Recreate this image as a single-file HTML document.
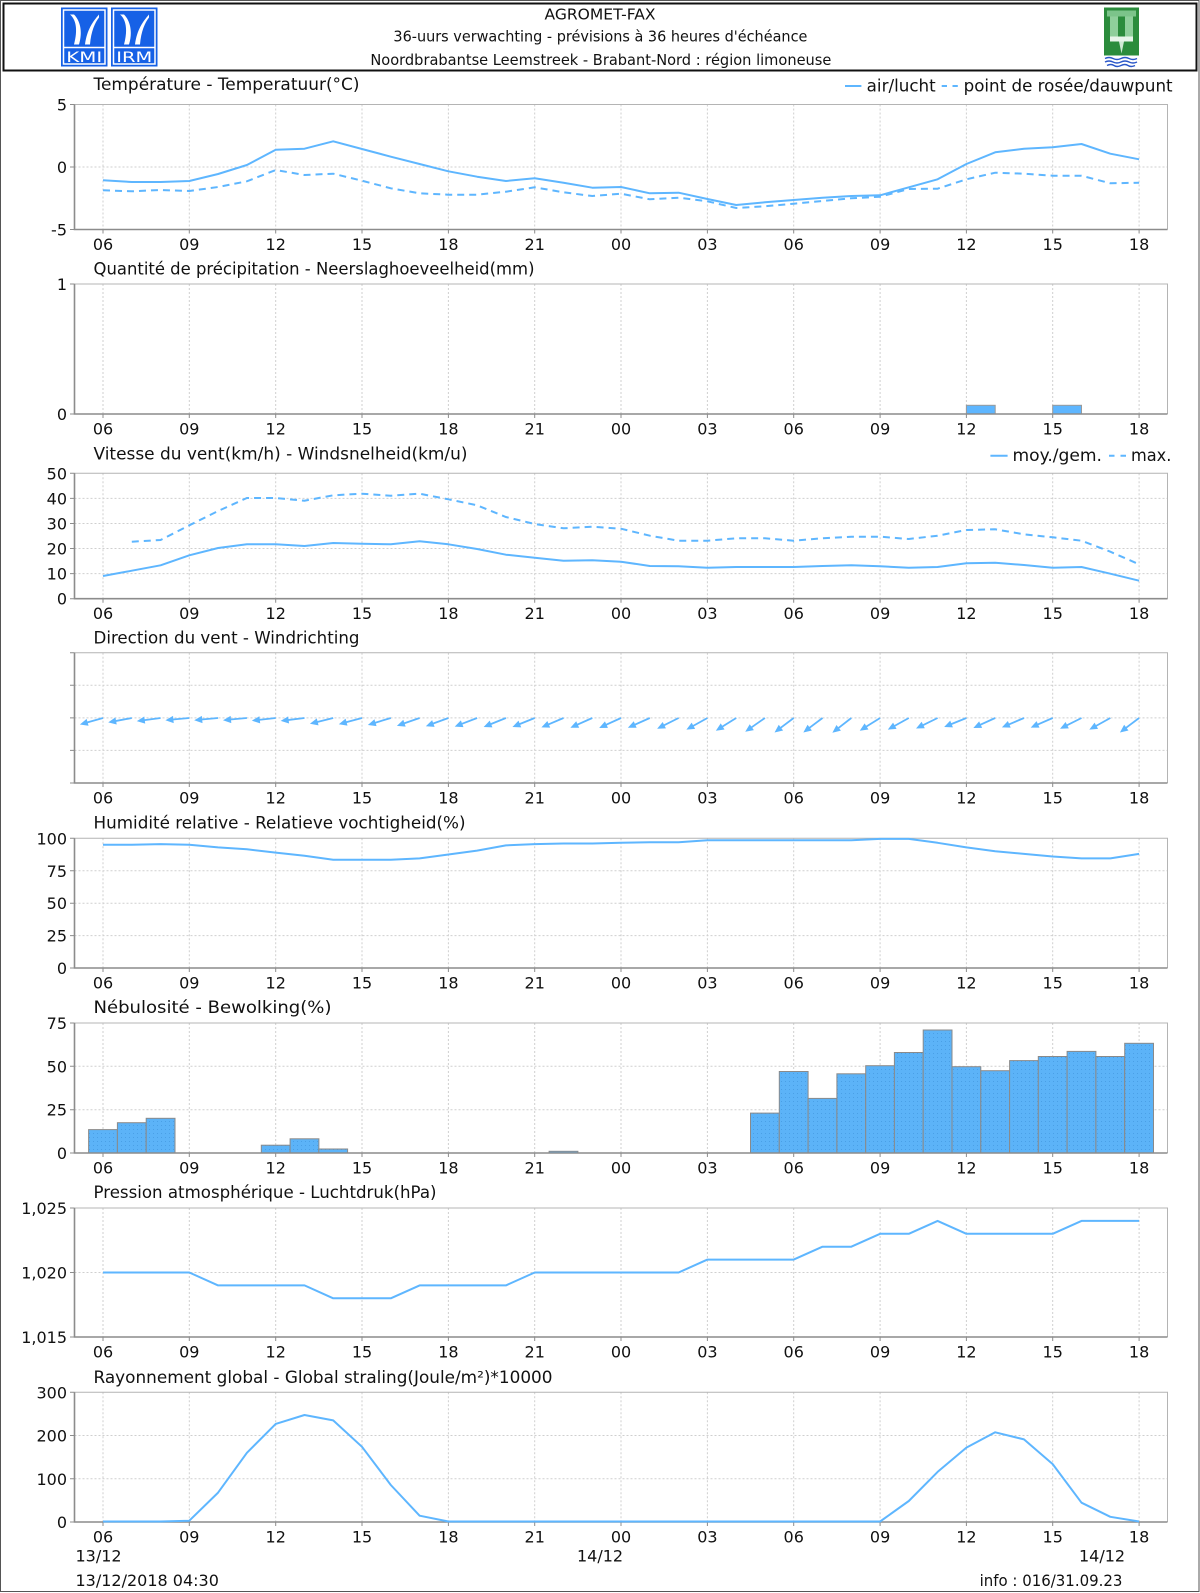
<!DOCTYPE html>
<html><head><meta charset="utf-8"><style>
html,body{margin:0;padding:0;background:#fff;}
svg{display:block;}
text{font-family:"DejaVu Sans","Liberation Sans",sans-serif;fill:#111;}
.t{font-size:16px;}
.ti{font-size:16.5px;}
.h{font-size:15px;}
.yl{text-anchor:end;}
.xl{text-anchor:middle;}
.grid{stroke:#cfcfcf;stroke-width:1;stroke-dasharray:2 2;fill:none;}
.frame{stroke:#b4b4b4;stroke-width:1;fill:none;}
.axis{stroke:#8c8c8c;stroke-width:1.6;fill:none;}
.tick{stroke:#8c8c8c;stroke-width:1;fill:none;}
.s{stroke:#5eb6ff;stroke-width:2;fill:none;stroke-linejoin:round;}
.d{stroke:#5eb6ff;stroke-width:2;fill:none;stroke-dasharray:7 5;}
.bar{fill:url(#dots);stroke:#8a8a8a;stroke-width:1;}
</style></head><body>
<svg width="1200" height="1593" viewBox="0 0 1200 1593" xmlns="http://www.w3.org/2000/svg">
<defs>
<pattern id="dots" width="4" height="4" patternUnits="userSpaceOnUse">
<rect width="4" height="4" fill="#5cb3f8"/><rect x="1" y="1" width="1" height="1" fill="#4a9fe6"/>
</pattern>
<g id="arr"><line x1="0" y1="0" x2="18" y2="0" stroke="#5eb6ff" stroke-width="1.8"/><polygon points="24,0 16,-3.6 16,3.6" fill="#5eb6ff"/></g>
</defs>

<!-- outer border -->
<rect x="0.5" y="0.5" width="1198.5" height="1591" fill="none" stroke="#555" stroke-width="1"/>
<!-- header -->
<rect x="3.5" y="3.5" width="1193" height="67" fill="#fff" stroke="#111" stroke-width="2"/>
<text class="h" x="600" y="19.3" text-anchor="middle" textLength="111" lengthAdjust="spacingAndGlyphs">AGROMET-FAX</text>
<text class="h" x="393.4" y="41.5" textLength="414" lengthAdjust="spacingAndGlyphs">36-uurs verwachting - prévisions à 36 heures d'échéance</text>
<text class="h" x="370.4" y="65" textLength="461" lengthAdjust="spacingAndGlyphs">Noordbrabantse Leemstreek - Brabant-Nord : région limoneuse</text>

<!-- KMI logo -->
<g transform="translate(61,7.5)">
<rect width="46.5" height="59" fill="#1661e6"/>
<rect x="2.5" y="2.5" width="41.5" height="54" fill="none" stroke="#fff" stroke-width="1.5"/>
<path d="M9,7 C15,12 17,22 13,37 L18,37 C22,24 19,13 13,7 Z" fill="#fff"/>
<path d="M38,7 C32,14 26,22 24,37 L29,37 C30,24 34,15 38,10 Z" fill="#fff"/>
<line x1="3" y1="40" x2="43.5" y2="40" stroke="#fff" stroke-width="1.5"/>
<text x="23.25" y="54.5" text-anchor="middle" style="font-size:14px;fill:#fff" textLength="36" lengthAdjust="spacingAndGlyphs">KMI</text>
</g>
<g transform="translate(111,7.5)">
<rect width="46.5" height="59" fill="#1661e6"/>
<rect x="2.5" y="2.5" width="41.5" height="54" fill="none" stroke="#fff" stroke-width="1.5"/>
<path d="M9,7 C15,12 17,22 13,37 L18,37 C22,24 19,13 13,7 Z" fill="#fff"/>
<path d="M38,7 C32,14 26,22 24,37 L29,37 C30,24 34,15 38,10 Z" fill="#fff"/>
<line x1="3" y1="40" x2="43.5" y2="40" stroke="#fff" stroke-width="1.5"/>
<text x="23.25" y="54.5" text-anchor="middle" style="font-size:14px;fill:#fff" textLength="36" lengthAdjust="spacingAndGlyphs">IRM</text>
</g>
<!-- green logo -->
<g transform="translate(1104,7.5)">
<rect width="35" height="48" fill="#2b8c3c"/>
<rect x="3" y="3" width="29" height="6" fill="#7cc48a"/>
<rect x="6" y="9" width="8" height="20" fill="#8fcf9b"/>
<rect x="21" y="9" width="8" height="20" fill="#8fcf9b"/>
<rect x="6" y="29" width="23" height="5" fill="#e8f5ea"/>
<path d="M15,34 L17.5,46 L20,34 Z" fill="#cfe9d4"/>
<path d="M1,51 q4,-2 8,0 t8,0 t8,0 t8,0" stroke="#2a56c8" stroke-width="1.4" fill="none"/>
<path d="M1,54.5 q4,-2 8,0 t8,0 t8,0 t8,0" stroke="#2a56c8" stroke-width="1.4" fill="none"/>
<path d="M3,58 q4,-2 7,0 t7,0 t7,0 t7,0" stroke="#2a56c8" stroke-width="1.4" fill="none"/>
</g>

<!-- ============ PANEL 1: Temperature ============ -->
<text class="ti" x="93.5" y="90" textLength="266" lengthAdjust="spacingAndGlyphs">Température - Temperatuur(°C)</text>
<line x1="845" y1="86" x2="861.4" y2="86" stroke="#5eb6ff" stroke-width="2"/>
<text class="ti" x="866.7" y="91.5" textLength="69" lengthAdjust="spacingAndGlyphs">air/lucht</text>
<path d="M941.7 86H947M952.5 86H957.8" stroke="#5eb6ff" stroke-width="2"/>
<text class="ti" x="963.6" y="91.5" textLength="209" lengthAdjust="spacingAndGlyphs">point de rosée/dauwpunt</text>
<path class="grid" d="M103 104.5V229.5M189.3 104.5V229.5M275.7 104.5V229.5M362 104.5V229.5M448.4 104.5V229.5M534.7 104.5V229.5M621 104.5V229.5M707.4 104.5V229.5M793.7 104.5V229.5M880.1 104.5V229.5M966.4 104.5V229.5M1052.7 104.5V229.5M1139.1 104.5V229.5M74.5 167H1167.5"/>
<path class="frame" d="M74.5 104.5H1167.5V229.5"/>
<path class="axis" d="M74.5 104.5V229.5H1167.5"/>
<path class="tick" d="M70 104.5h4.5M70 167h4.5M70 229.5h4.5M103 229.5v4M189.3 229.5v4M275.7 229.5v4M362 229.5v4M448.4 229.5v4M534.7 229.5v4M621 229.5v4M707.4 229.5v4M793.7 229.5v4M880.1 229.5v4M966.4 229.5v4M1052.7 229.5v4M1139.1 229.5v4"/>
<g class="t yl"><text x="67" y="110.5">5</text><text x="67" y="173">0</text><text x="67" y="235.5">-5</text></g>
<g class="t xl"><text x="103" y="250">06</text><text x="189.3" y="250">09</text><text x="275.7" y="250">12</text><text x="362" y="250">15</text><text x="448.4" y="250">18</text><text x="534.7" y="250">21</text><text x="621" y="250">00</text><text x="707.4" y="250">03</text><text x="793.7" y="250">06</text><text x="880.1" y="250">09</text><text x="966.4" y="250">12</text><text x="1052.7" y="250">15</text><text x="1139.1" y="250">18</text></g>
<polyline class="d" points="103,190.3 131.8,191.3 160.6,190 189.3,191 218.1,187 246.9,181.3 275.7,170 304.5,175 333.2,173.7 362,180.7 390.8,188.3 419.6,193.3 448.4,194.7 477.1,194.7 505.9,191.7 534.7,187.3 563.5,192.3 592.3,196 621,193.7 649.8,199.3 678.6,197.7 707.4,201.3 736.2,208 764.9,206.3 793.7,203.7 822.5,201 851.3,198.3 880.1,196.7 908.8,189 937.6,188.7 966.4,179.3 995.2,172.7 1024,173.7 1052.7,175.7 1081.5,175.7 1110.3,183.3 1139.1,182.7"/>
<polyline class="s" points="103,180.3 131.8,182 160.6,182 189.3,181 218.1,174 246.9,165 275.7,149.7 304.5,148.7 333.2,141.3 362,149 390.8,156.7 419.6,164 448.4,171.3 477.1,176.7 505.9,181 534.7,178.3 563.5,182.7 592.3,187.7 621,187 649.8,193.3 678.6,192.7 707.4,199 736.2,205 764.9,202.3 793.7,200 822.5,197.7 851.3,196 880.1,195.3 908.8,187.3 937.6,179.3 966.4,164 995.2,152.3 1024,148.7 1052.7,147.3 1081.5,144 1110.3,153.7 1139.1,159.3"/>

<!-- ============ PANEL 2: Precipitation ============ -->
<text class="ti" x="93.5" y="274.5" textLength="441" lengthAdjust="spacingAndGlyphs">Quantité de précipitation - Neerslaghoeveelheid(mm)</text>
<path class="grid" d="M103 284V414M189.3 284V414M275.7 284V414M362 284V414M448.4 284V414M534.7 284V414M621 284V414M707.4 284V414M793.7 284V414M880.1 284V414M966.4 284V414M1052.7 284V414M1139.1 284V414"/>
<path class="frame" d="M74.5 284H1167.5V414"/>
<rect x="966.4" y="405.3" width="28.8" height="8.7" fill="#5eb6ff" stroke="#9a9a9a" stroke-width="1"/>
<rect x="1052.7" y="405.3" width="28.8" height="8.7" fill="#5eb6ff" stroke="#9a9a9a" stroke-width="1"/>
<path class="axis" d="M74.5 284V414H1167.5"/>
<path class="tick" d="M70 284h4.5M70 414h4.5M103 414v4M189.3 414v4M275.7 414v4M362 414v4M448.4 414v4M534.7 414v4M621 414v4M707.4 414v4M793.7 414v4M880.1 414v4M966.4 414v4M1052.7 414v4M1139.1 414v4"/>
<g class="t yl"><text x="67" y="290">1</text><text x="67" y="420">0</text></g>
<g class="t xl"><text x="103" y="434.5">06</text><text x="189.3" y="434.5">09</text><text x="275.7" y="434.5">12</text><text x="362" y="434.5">15</text><text x="448.4" y="434.5">18</text><text x="534.7" y="434.5">21</text><text x="621" y="434.5">00</text><text x="707.4" y="434.5">03</text><text x="793.7" y="434.5">06</text><text x="880.1" y="434.5">09</text><text x="966.4" y="434.5">12</text><text x="1052.7" y="434.5">15</text><text x="1139.1" y="434.5">18</text></g>

<!-- ============ PANEL 3: Wind speed ============ -->
<text class="ti" x="93.5" y="459.3" textLength="374" lengthAdjust="spacingAndGlyphs">Vitesse du vent(km/h) - Windsnelheid(km/u)</text>
<line x1="990.4" y1="455.7" x2="1007.6" y2="455.7" stroke="#5eb6ff" stroke-width="2"/>
<text class="ti" x="1012.5" y="461" textLength="89.5" lengthAdjust="spacingAndGlyphs">moy./gem.</text>
<path d="M1109 455.7H1114.5M1120.5 455.7H1126" stroke="#5eb6ff" stroke-width="2"/>
<text class="ti" x="1131" y="461" textLength="40.4" lengthAdjust="spacingAndGlyphs">max.</text>
<path class="grid" d="M103 473.3V598.7M189.3 473.3V598.7M275.7 473.3V598.7M362 473.3V598.7M448.4 473.3V598.7M534.7 473.3V598.7M621 473.3V598.7M707.4 473.3V598.7M793.7 473.3V598.7M880.1 473.3V598.7M966.4 473.3V598.7M1052.7 473.3V598.7M1139.1 473.3V598.7M74.5 498.4H1167.5M74.5 523.5H1167.5M74.5 548.5H1167.5M74.5 573.6H1167.5"/>
<path class="frame" d="M74.5 473.3H1167.5V598.7"/>
<path class="axis" d="M74.5 473.3V598.7H1167.5"/>
<path class="tick" d="M70 473.3h4.5M70 498.4h4.5M70 523.5h4.5M70 548.5h4.5M70 573.6h4.5M70 598.7h4.5M103 598.7v4M189.3 598.7v4M275.7 598.7v4M362 598.7v4M448.4 598.7v4M534.7 598.7v4M621 598.7v4M707.4 598.7v4M793.7 598.7v4M880.1 598.7v4M966.4 598.7v4M1052.7 598.7v4M1139.1 598.7v4"/>
<g class="t yl"><text x="67" y="479.3">50</text><text x="67" y="504.4">40</text><text x="67" y="529.5">30</text><text x="67" y="554.5">20</text><text x="67" y="579.6">10</text><text x="67" y="604.7">0</text></g>
<g class="t xl"><text x="103" y="619.2">06</text><text x="189.3" y="619.2">09</text><text x="275.7" y="619.2">12</text><text x="362" y="619.2">15</text><text x="448.4" y="619.2">18</text><text x="534.7" y="619.2">21</text><text x="621" y="619.2">00</text><text x="707.4" y="619.2">03</text><text x="793.7" y="619.2">06</text><text x="880.1" y="619.2">09</text><text x="966.4" y="619.2">12</text><text x="1052.7" y="619.2">15</text><text x="1139.1" y="619.2">18</text></g>
<polyline class="d" points="131.8,541.7 160.6,540 189.3,525.3 218.1,511 246.9,498 275.7,498 304.5,500.7 333.2,495.3 362,493.7 390.8,495.7 419.6,493.7 448.4,499.3 477.1,505.3 505.9,517 534.7,524 563.5,528.3 592.3,526.7 621,528.7 649.8,535.7 678.6,540.7 707.4,540.7 736.2,538.3 764.9,538.3 793.7,540.7 822.5,538.3 851.3,536.7 880.1,536.7 908.8,539 937.6,535.7 966.4,530 995.2,529.3 1024,534.3 1052.7,537.3 1081.5,540.7 1110.3,551.7 1139.1,564.3"/>
<polyline class="s" points="103,576 131.8,570.7 160.6,565.3 189.3,555.3 218.1,548 246.9,544.3 275.7,544.3 304.5,546 333.2,543 362,543.7 390.8,544.3 419.6,541.3 448.4,544.3 477.1,549 505.9,554.7 534.7,557.7 563.5,560.7 592.3,560.3 621,561.7 649.8,566 678.6,566.3 707.4,567.7 736.2,567 764.9,567 793.7,567 822.5,566 851.3,565.3 880.1,566.3 908.8,567.7 937.6,567 966.4,563.3 995.2,562.7 1024,565 1052.7,567.7 1081.5,567 1110.3,573.7 1139.1,580.7"/>

<!-- ============ PANEL 4: Wind direction ============ -->
<text class="ti" x="93.5" y="643.5" textLength="266" lengthAdjust="spacingAndGlyphs">Direction du vent - Windrichting</text>
<path class="grid" d="M103 652.7V783M189.3 652.7V783M275.7 652.7V783M362 652.7V783M448.4 652.7V783M534.7 652.7V783M621 652.7V783M707.4 652.7V783M793.7 652.7V783M880.1 652.7V783M966.4 652.7V783M1052.7 652.7V783M1139.1 652.7V783M74.5 685.3H1167.5M74.5 717.9H1167.5M74.5 750.4H1167.5"/>
<path class="frame" d="M74.5 652.7H1167.5V783"/>
<path class="axis" d="M74.5 652.7V783H1167.5"/>
<path class="tick" d="M70 652.7h4.5M70 685.3h4.5M70 717.9h4.5M70 750.4h4.5M70 783h4.5M103 783v4M189.3 783v4M275.7 783v4M362 783v4M448.4 783v4M534.7 783v4M621 783v4M707.4 783v4M793.7 783v4M880.1 783v4M966.4 783v4M1052.7 783v4M1139.1 783v4"/>
<g class="t xl"><text x="103" y="803.5">06</text><text x="189.3" y="803.5">09</text><text x="275.7" y="803.5">12</text><text x="362" y="803.5">15</text><text x="448.4" y="803.5">18</text><text x="534.7" y="803.5">21</text><text x="621" y="803.5">00</text><text x="707.4" y="803.5">03</text><text x="793.7" y="803.5">06</text><text x="880.1" y="803.5">09</text><text x="966.4" y="803.5">12</text><text x="1052.7" y="803.5">15</text><text x="1139.1" y="803.5">18</text></g>
<g>
<use href="#arr" transform="translate(103,718) rotate(164.4)"/>
<use href="#arr" transform="translate(131.8,718) rotate(169.4)"/>
<use href="#arr" transform="translate(160.6,718) rotate(172.4)"/>
<use href="#arr" transform="translate(189.3,718) rotate(174.7)"/>
<use href="#arr" transform="translate(218.1,718) rotate(174.7)"/>
<use href="#arr" transform="translate(246.9,718) rotate(174.7)"/>
<use href="#arr" transform="translate(275.7,718) rotate(173.6)"/>
<use href="#arr" transform="translate(304.5,718) rotate(173)"/>
<use href="#arr" transform="translate(333.2,718) rotate(166)"/>
<use href="#arr" transform="translate(362,718) rotate(165)"/>
<use href="#arr" transform="translate(390.8,718) rotate(163)"/>
<use href="#arr" transform="translate(419.6,718) rotate(161)"/>
<use href="#arr" transform="translate(448.4,718) rotate(160)"/>
<use href="#arr" transform="translate(477.1,718) rotate(159)"/>
<use href="#arr" transform="translate(505.9,718) rotate(158)"/>
<use href="#arr" transform="translate(534.7,718) rotate(158)"/>
<use href="#arr" transform="translate(563.5,718) rotate(157)"/>
<use href="#arr" transform="translate(592.3,718) rotate(156)"/>
<use href="#arr" transform="translate(621,718) rotate(155.4)"/>
<use href="#arr" transform="translate(649.8,718) rotate(156)"/>
<use href="#arr" transform="translate(678.6,718) rotate(153.4)"/>
<use href="#arr" transform="translate(707.4,718) rotate(151)"/>
<use href="#arr" transform="translate(736.2,718) rotate(148)"/>
<use href="#arr" transform="translate(764.9,718) rotate(145)"/>
<use href="#arr" transform="translate(793.7,718) rotate(143)"/>
<use href="#arr" transform="translate(822.5,718) rotate(143)"/>
<use href="#arr" transform="translate(851.3,718) rotate(142)"/>
<use href="#arr" transform="translate(880.1,718) rotate(148)"/>
<use href="#arr" transform="translate(908.8,718) rotate(151)"/>
<use href="#arr" transform="translate(937.6,718) rotate(154)"/>
<use href="#arr" transform="translate(966.4,718) rotate(158)"/>
<use href="#arr" transform="translate(995.2,718) rotate(155.5)"/>
<use href="#arr" transform="translate(1024,718) rotate(157)"/>
<use href="#arr" transform="translate(1052.7,718) rotate(156.5)"/>
<use href="#arr" transform="translate(1081.5,718) rotate(153.4)"/>
<use href="#arr" transform="translate(1110.3,718) rotate(151)"/>
<use href="#arr" transform="translate(1139.1,718) rotate(143)"/>
</g>

<!-- ============ PANEL 5: Humidity ============ -->
<text class="ti" x="93.5" y="828.5" textLength="372" lengthAdjust="spacingAndGlyphs">Humidité relative - Relatieve vochtigheid(%)</text>
<path class="grid" d="M103 838.3V968M189.3 838.3V968M275.7 838.3V968M362 838.3V968M448.4 838.3V968M534.7 838.3V968M621 838.3V968M707.4 838.3V968M793.7 838.3V968M880.1 838.3V968M966.4 838.3V968M1052.7 838.3V968M1139.1 838.3V968M74.5 870.8H1167.5M74.5 903.2H1167.5M74.5 935.6H1167.5"/>
<path class="frame" d="M74.5 838.3H1167.5V968"/>
<path class="axis" d="M74.5 838.3V968H1167.5"/>
<path class="tick" d="M70 838.3h4.5M70 870.8h4.5M70 903.2h4.5M70 935.6h4.5M70 968h4.5M103 968v4M189.3 968v4M275.7 968v4M362 968v4M448.4 968v4M534.7 968v4M621 968v4M707.4 968v4M793.7 968v4M880.1 968v4M966.4 968v4M1052.7 968v4M1139.1 968v4"/>
<g class="t yl"><text x="67" y="844.3">100</text><text x="67" y="876.8">75</text><text x="67" y="909.2">50</text><text x="67" y="941.6">25</text><text x="67" y="974">0</text></g>
<g class="t xl"><text x="103" y="988.5">06</text><text x="189.3" y="988.5">09</text><text x="275.7" y="988.5">12</text><text x="362" y="988.5">15</text><text x="448.4" y="988.5">18</text><text x="534.7" y="988.5">21</text><text x="621" y="988.5">00</text><text x="707.4" y="988.5">03</text><text x="793.7" y="988.5">06</text><text x="880.1" y="988.5">09</text><text x="966.4" y="988.5">12</text><text x="1052.7" y="988.5">15</text><text x="1139.1" y="988.5">18</text></g>
<polyline class="s" points="103,844.8 131.8,844.8 160.6,844.1 189.3,844.8 218.1,847.4 246.9,849.3 275.7,852.6 304.5,855.8 333.2,859.7 362,859.7 390.8,859.7 419.6,858.4 448.4,854.5 477.1,850.6 505.9,845.4 534.7,844.1 563.5,843.5 592.3,843.5 621,842.8 649.8,842.2 678.6,842.2 707.4,840.2 736.2,840.2 764.9,840.2 793.7,840.2 822.5,840.2 851.3,840.2 880.1,838.9 908.8,838.9 937.6,842.8 966.4,847.4 995.2,851.3 1024,853.9 1052.7,856.5 1081.5,858.4 1110.3,858.4 1139.1,853.9"/>

<!-- ============ PANEL 6: Cloud cover ============ -->
<text class="ti" x="93.5" y="1013" textLength="238" lengthAdjust="spacingAndGlyphs">Nébulosité - Bewolking(%)</text>
<path class="grid" d="M103 1023V1153M189.3 1023V1153M275.7 1023V1153M362 1023V1153M448.4 1023V1153M534.7 1023V1153M621 1023V1153M707.4 1023V1153M793.7 1023V1153M880.1 1023V1153M966.4 1023V1153M1052.7 1023V1153M1139.1 1023V1153M74.5 1066.3H1167.5M74.5 1109.7H1167.5"/>
<path class="frame" d="M74.5 1023H1167.5V1153"/>
<g>
<rect class="bar" x="88.6" y="1129.6" width="28.8" height="23.4"/>
<rect class="bar" x="117.4" y="1122.7" width="28.8" height="30.3"/>
<rect class="bar" x="146.2" y="1118.3" width="28.8" height="34.7"/>
<rect class="bar" x="261.3" y="1145.2" width="28.8" height="7.8"/>
<rect class="bar" x="290.1" y="1138.8" width="28.8" height="14.2"/>
<rect class="bar" x="318.8" y="1149" width="28.8" height="4"/>
<rect class="bar" x="549.1" y="1151.3" width="28.8" height="1.7"/>
<rect class="bar" x="750.5" y="1113.1" width="28.8" height="39.9"/>
<rect class="bar" x="779.3" y="1071.5" width="28.8" height="81.5"/>
<rect class="bar" x="808.1" y="1098.4" width="28.8" height="54.6"/>
<rect class="bar" x="836.9" y="1073.8" width="28.8" height="79.2"/>
<rect class="bar" x="865.7" y="1065.7" width="28.8" height="87.3"/>
<rect class="bar" x="894.4" y="1052.5" width="28.8" height="100.5"/>
<rect class="bar" x="923.2" y="1030" width="28.8" height="123"/>
<rect class="bar" x="952" y="1066.7" width="28.8" height="86.3"/>
<rect class="bar" x="980.8" y="1070.7" width="28.8" height="82.3"/>
<rect class="bar" x="1009.6" y="1060.6" width="28.8" height="92.4"/>
<rect class="bar" x="1038.3" y="1056.5" width="28.8" height="96.5"/>
<rect class="bar" x="1067.1" y="1051.4" width="28.8" height="101.6"/>
<rect class="bar" x="1095.9" y="1056.5" width="28.8" height="96.5"/>
<rect class="bar" x="1124.7" y="1043.3" width="28.8" height="109.7"/>
</g>
<path class="axis" d="M74.5 1023V1153H1167.5"/>
<path class="tick" d="M70 1023h4.5M70 1066.3h4.5M70 1109.7h4.5M70 1153h4.5M103 1153v4M189.3 1153v4M275.7 1153v4M362 1153v4M448.4 1153v4M534.7 1153v4M621 1153v4M707.4 1153v4M793.7 1153v4M880.1 1153v4M966.4 1153v4M1052.7 1153v4M1139.1 1153v4"/>
<g class="t yl"><text x="67" y="1029">75</text><text x="67" y="1072.3">50</text><text x="67" y="1115.7">25</text><text x="67" y="1159">0</text></g>
<g class="t xl"><text x="103" y="1173.5">06</text><text x="189.3" y="1173.5">09</text><text x="275.7" y="1173.5">12</text><text x="362" y="1173.5">15</text><text x="448.4" y="1173.5">18</text><text x="534.7" y="1173.5">21</text><text x="621" y="1173.5">00</text><text x="707.4" y="1173.5">03</text><text x="793.7" y="1173.5">06</text><text x="880.1" y="1173.5">09</text><text x="966.4" y="1173.5">12</text><text x="1052.7" y="1173.5">15</text><text x="1139.1" y="1173.5">18</text></g>

<!-- ============ PANEL 7: Pressure ============ -->
<text class="ti" x="93.5" y="1198" textLength="343" lengthAdjust="spacingAndGlyphs">Pression atmosphérique - Luchtdruk(hPa)</text>
<path class="grid" d="M103 1208V1337M189.3 1208V1337M275.7 1208V1337M362 1208V1337M448.4 1208V1337M534.7 1208V1337M621 1208V1337M707.4 1208V1337M793.7 1208V1337M880.1 1208V1337M966.4 1208V1337M1052.7 1208V1337M1139.1 1208V1337M74.5 1272.5H1167.5"/>
<path class="frame" d="M74.5 1208H1167.5V1337"/>
<path class="axis" d="M74.5 1208V1337H1167.5"/>
<path class="tick" d="M70 1208h4.5M70 1272.5h4.5M70 1337h4.5M103 1337v4M189.3 1337v4M275.7 1337v4M362 1337v4M448.4 1337v4M534.7 1337v4M621 1337v4M707.4 1337v4M793.7 1337v4M880.1 1337v4M966.4 1337v4M1052.7 1337v4M1139.1 1337v4"/>
<g class="t yl"><text x="67" y="1214">1,025</text><text x="67" y="1278.5">1,020</text><text x="67" y="1343">1,015</text></g>
<g class="t xl"><text x="103" y="1357.5">06</text><text x="189.3" y="1357.5">09</text><text x="275.7" y="1357.5">12</text><text x="362" y="1357.5">15</text><text x="448.4" y="1357.5">18</text><text x="534.7" y="1357.5">21</text><text x="621" y="1357.5">00</text><text x="707.4" y="1357.5">03</text><text x="793.7" y="1357.5">06</text><text x="880.1" y="1357.5">09</text><text x="966.4" y="1357.5">12</text><text x="1052.7" y="1357.5">15</text><text x="1139.1" y="1357.5">18</text></g>
<polyline class="s" points="103,1272.5 189.3,1272.5 218.1,1285.4 304.5,1285.4 333.2,1298.3 390.8,1298.3 419.6,1285.4 505.9,1285.4 534.7,1272.5 678.6,1272.5 707.4,1259.6 793.7,1259.6 822.5,1246.7 851.3,1246.7 880.1,1233.8 908.8,1233.8 937.6,1220.9 966.4,1233.8 1052.7,1233.8 1081.5,1220.9 1139.1,1220.9"/>

<!-- ============ PANEL 8: Radiation ============ -->
<text class="ti" x="93.5" y="1383" textLength="459" lengthAdjust="spacingAndGlyphs">Rayonnement global - Global straling(Joule/m²)*10000</text>
<path class="grid" d="M103 1392.3V1522M189.3 1392.3V1522M275.7 1392.3V1522M362 1392.3V1522M448.4 1392.3V1522M534.7 1392.3V1522M621 1392.3V1522M707.4 1392.3V1522M793.7 1392.3V1522M880.1 1392.3V1522M966.4 1392.3V1522M1052.7 1392.3V1522M1139.1 1392.3V1522M74.5 1435.5H1167.5M74.5 1478.8H1167.5"/>
<path class="frame" d="M74.5 1392.3H1167.5V1522"/>
<path class="axis" d="M74.5 1392.3V1522H1167.5"/>
<path class="tick" d="M70 1392.3h4.5M70 1435.5h4.5M70 1478.8h4.5M70 1522h4.5M103 1522v4M189.3 1522v4M275.7 1522v4M362 1522v4M448.4 1522v4M534.7 1522v4M621 1522v4M707.4 1522v4M793.7 1522v4M880.1 1522v4M966.4 1522v4M1052.7 1522v4M1139.1 1522v4"/>
<g class="t yl"><text x="67" y="1398.3">300</text><text x="67" y="1441.5">200</text><text x="67" y="1484.8">100</text><text x="67" y="1528">0</text></g>
<g class="t xl"><text x="103" y="1542.5">06</text><text x="189.3" y="1542.5">09</text><text x="275.7" y="1542.5">12</text><text x="362" y="1542.5">15</text><text x="448.4" y="1542.5">18</text><text x="534.7" y="1542.5">21</text><text x="621" y="1542.5">00</text><text x="707.4" y="1542.5">03</text><text x="793.7" y="1542.5">06</text><text x="880.1" y="1542.5">09</text><text x="966.4" y="1542.5">12</text><text x="1052.7" y="1542.5">15</text><text x="1139.1" y="1542.5">18</text></g>
<polyline class="s" points="103,1521.5 160.6,1521.5 189.3,1520.7 218.1,1492.6 246.9,1452.8 275.7,1423.9 304.5,1415 333.2,1420.4 362,1446.8 390.8,1485 419.6,1515.7 448.4,1521.5 880.1,1521.5 908.8,1501 937.6,1471.9 966.4,1447.6 995.2,1432.3 1024,1439.4 1052.7,1464.1 1081.5,1502.7 1110.3,1516.8 1139.1,1521.5"/>

<!-- dates & footer -->
<text class="t" x="75.5" y="1561.5">13/12</text>
<text class="t" x="577" y="1561.5">14/12</text>
<text class="t" x="1079" y="1561.5">14/12</text>
<text class="t" x="75.5" y="1586">13/12/2018 04:30</text>
<text class="t" x="979.6" y="1586" textLength="142.8" lengthAdjust="spacingAndGlyphs">info : 016/31.09.23</text>
</svg>
</body></html>
